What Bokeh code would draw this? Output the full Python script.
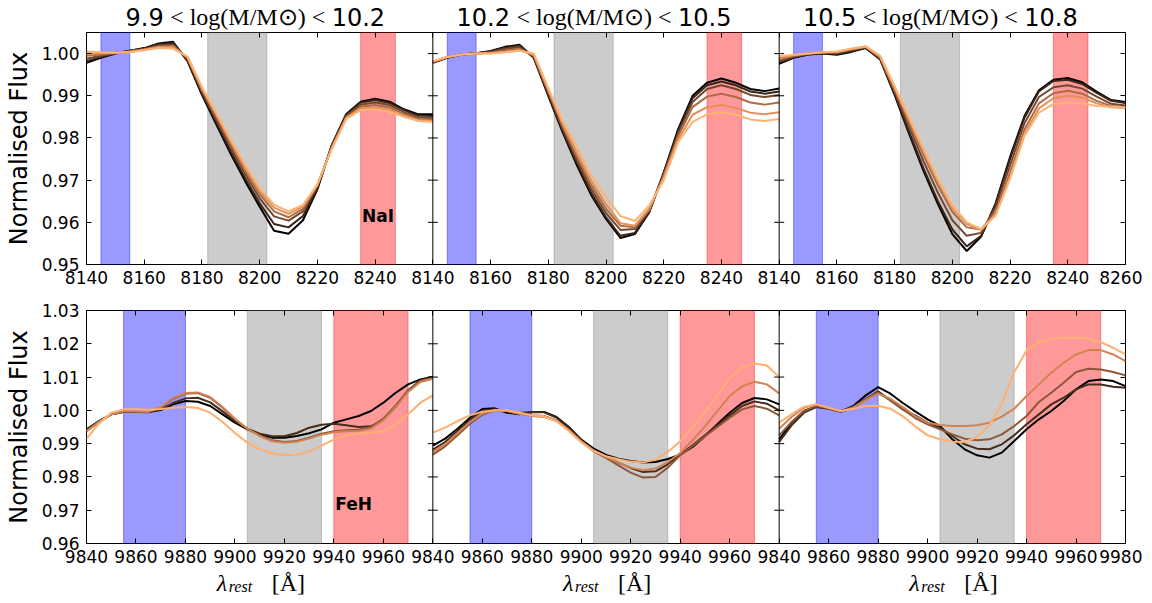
from bokeh.plotting import figure
from bokeh.models import (Range1d, LinearAxis, BoxAnnotation, Label, FixedTicker,
                          Span, NumeralTickFormatter)
from bokeh.layouts import column
from bokeh.embed import file_html
from bokeh.resources import INLINE

# ---------------- data ----------------
bin_lo = ["9.9", "10.2", "10.5"]
bin_hi = ["10.2", "10.5", "10.8"]

# NaI region (top row)
nai_wave = [8140, 8145, 8150, 8155, 8160, 8165, 8170, 8175, 8180, 8185, 8190, 8195, 8200,
            8205, 8210, 8215, 8220, 8225, 8230, 8235, 8240, 8245, 8250, 8255, 8260]
nai_range = [8140, 8260]
nai_yrange = [0.95, 1.005]
nai_yticks = [0.95, 0.96, 0.97, 0.98, 0.99, 1.00]
nai_xticks = [8140, 8160, 8180, 8200, 8220, 8240, 8260]
nai_blue = [8145, 8155]
nai_grey = [8182, 8202.5]
nai_red = [8235, 8247]

nai_bin1 = [
    [0.9978, 0.9990, 1.0000, 1.0007, 1.0013, 1.0024, 1.0028, 0.9982, 0.9902, 0.9832, 0.9762, 0.9697, 0.9637,
     0.9580, 0.9573, 0.9605, 0.9678, 0.9783, 0.9857, 0.9886, 0.9893, 0.9886, 0.9868, 0.9856, 0.9856],
    [0.9982, 0.9992, 1.0001, 1.0007, 1.0012, 1.0022, 1.0025, 0.9984, 0.9906, 0.9837, 0.9768, 0.9704, 0.9645,
     0.9596, 0.9588, 0.9615, 0.9682, 0.9782, 0.9855, 0.9884, 0.9890, 0.9883, 0.9866, 0.9853, 0.9852],
    [0.9988, 0.9995, 1.0001, 1.0006, 1.0011, 1.0019, 1.0021, 0.9987, 0.9910, 0.9843, 0.9777, 0.9714, 0.9657,
     0.9614, 0.9604, 0.9626, 0.9686, 0.9780, 0.9852, 0.9879, 0.9884, 0.9878, 0.9861, 0.9849, 0.9847],
    [0.9995, 0.9998, 1.0002, 1.0005, 1.0010, 1.0017, 1.0018, 0.9990, 0.9914, 0.9850, 0.9785, 0.9722, 0.9667,
     0.9626, 0.9612, 0.9632, 0.9688, 0.9778, 0.9849, 0.9874, 0.9878, 0.9872, 0.9857, 0.9845, 0.9843],
    [1.0000, 1.0001, 1.0002, 1.0004, 1.0009, 1.0015, 1.0015, 0.9992, 0.9918, 0.9855, 0.9791, 0.9729, 0.9674,
     0.9635, 0.9620, 0.9637, 0.9689, 0.9776, 0.9847, 0.9870, 0.9872, 0.9866, 0.9853, 0.9842, 0.9840],
    [1.0005, 1.0003, 1.0002, 1.0004, 1.0008, 1.0013, 1.0012, 0.9993, 0.9921, 0.9859, 0.9796, 0.9736, 0.9681,
     0.9642, 0.9626, 0.9641, 0.9690, 0.9774, 0.9845, 0.9866, 0.9868, 0.9862, 0.9850, 0.9840, 0.9838],
]
nai_bin2 = [
    [0.9978, 0.9990, 0.9998, 1.0001, 1.0006, 1.0016, 1.0021, 0.9990, 0.9900, 0.9813, 0.9734, 0.9663, 0.9608,
     0.9563, 0.9572, 0.9624, 0.9718, 0.9821, 0.9900, 0.9931, 0.9941, 0.9931, 0.9916, 0.9911, 0.9917],
    [0.9979, 0.9991, 0.9998, 1.0001, 1.0005, 1.0014, 1.0019, 0.9990, 0.9903, 0.9817, 0.9739, 0.9668, 0.9612,
     0.9568, 0.9575, 0.9626, 0.9716, 0.9816, 0.9894, 0.9925, 0.9934, 0.9925, 0.9910, 0.9905, 0.9910],
    [0.9980, 0.9992, 0.9998, 1.0000, 1.0004, 1.0011, 1.0015, 0.9992, 0.9907, 0.9823, 0.9747, 0.9677, 0.9622,
     0.9582, 0.9584, 0.9628, 0.9713, 0.9810, 0.9885, 0.9916, 0.9925, 0.9916, 0.9902, 0.9897, 0.9902],
    [0.9980, 0.9992, 0.9998, 1.0000, 1.0002, 1.0007, 1.0011, 0.9995, 0.9911, 0.9828, 0.9755, 0.9687, 0.9632,
     0.9592, 0.9588, 0.9630, 0.9710, 0.9804, 0.9873, 0.9898, 0.9905, 0.9897, 0.9884, 0.9879, 0.9884],
    [0.9981, 0.9992, 0.9998, 1.0000, 1.0001, 1.0004, 1.0008, 0.9998, 0.9915, 0.9833, 0.9763, 0.9697, 0.9643,
     0.9598, 0.9592, 0.9633, 0.9706, 0.9796, 0.9855, 0.9873, 0.9878, 0.9871, 0.9860, 0.9856, 0.9861],
    [0.9982, 0.9992, 0.9998, 1.0000, 1.0000, 1.0003, 1.0007, 1.0000, 0.9918, 0.9840, 0.9778, 0.9710, 0.9660,
     0.9615, 0.9603, 0.9640, 0.9700, 0.9790, 0.9838, 0.9856, 0.9861, 0.9855, 0.9844, 0.9840, 0.9845],
]
nai_bin3 = [
    [0.9976, 0.9990, 0.9998, 1.0000, 0.9997, 1.0004, 1.0013, 0.9986, 0.9902, 0.9810, 0.9722, 0.9643, 0.9572,
     0.9532, 0.9566, 0.9645, 0.9755, 0.9852, 0.9913, 0.9938, 0.9942, 0.9932, 0.9910, 0.9890, 0.9885],
    [0.9979, 0.9991, 0.9998, 1.0001, 0.9999, 1.0006, 1.0014, 0.9987, 0.9905, 0.9815, 0.9728, 0.9650, 0.9583,
     0.9543, 0.9568, 0.9643, 0.9750, 0.9848, 0.9910, 0.9935, 0.9938, 0.9928, 0.9907, 0.9888, 0.9883],
    [0.9982, 0.9993, 0.9999, 1.0002, 1.0001, 1.0008, 1.0015, 0.9989, 0.9910, 0.9827, 0.9745, 0.9670, 0.9605,
     0.9568, 0.9575, 0.9635, 0.9735, 0.9835, 0.9897, 0.9920, 0.9925, 0.9917, 0.9898, 0.9881, 0.9877],
    [0.9986, 0.9995, 1.0000, 1.0003, 1.0003, 1.0010, 1.0016, 0.9991, 0.9915, 0.9837, 0.9760, 0.9688, 0.9625,
     0.9588, 0.9583, 0.9625, 0.9718, 0.9820, 0.9882, 0.9906, 0.9912, 0.9905, 0.9888, 0.9876, 0.9873],
    [0.9990, 0.9996, 1.0000, 1.0003, 1.0004, 1.0011, 1.0017, 0.9993, 0.9919, 0.9844, 0.9768, 0.9697, 0.9635,
     0.9596, 0.9582, 0.9618, 0.9708, 0.9810, 0.9870, 0.9894, 0.9900, 0.9896, 0.9882, 0.9873, 0.9871],
    [0.9994, 0.9997, 1.0000, 1.0003, 1.0005, 1.0012, 1.0017, 0.9995, 0.9923, 0.9849, 0.9774, 0.9703, 0.9640,
     0.9600, 0.9584, 0.9616, 0.9703, 0.9805, 0.9860, 0.9880, 0.9884, 0.9882, 0.9876, 0.9874, 0.9872],
]
nai_colors = ["#000000", "#392417", "#73482e", "#ac6c44", "#e58f5b", "#ffb372"]

# FeH region (bottom row)
feh_wave = [9840, 9845, 9850, 9855, 9860, 9865, 9870, 9875, 9880, 9885, 9890, 9895, 9900, 9905, 9910,
            9915, 9920, 9925, 9930, 9935, 9940, 9945, 9950, 9955, 9960, 9965, 9970, 9975, 9980]
feh_range = [9840, 9980]
feh_yrange = [0.96, 1.03]
feh_yticks = [0.96, 0.97, 0.98, 0.99, 1.00, 1.01, 1.02, 1.03]
feh_xticks = [9840, 9860, 9880, 9900, 9920, 9940, 9960, 9980]
feh_blue = [9855, 9880]
feh_grey = [9905, 9935]
feh_red = [9940, 9970]

feh_bin1 = [
    [0.9943, 0.9968, 0.9988, 0.9995, 0.9995, 0.9995, 1.0001, 1.0018, 1.0028, 1.0026, 1.0013, 0.9988, 0.9963, 0.9943,
     0.9928, 0.9918, 0.9918, 0.9923, 0.9931, 0.9943, 0.9963, 0.9973, 0.9983, 0.9998, 1.0023, 1.0053, 1.0078, 1.0093, 1.0101],
    [0.9938, 0.9965, 0.9988, 0.9996, 0.9995, 0.9994, 1.0003, 1.0022, 1.0036, 1.0038, 1.0024, 0.9997, 0.9968, 0.9945,
     0.9930, 0.9922, 0.9922, 0.9932, 0.9948, 0.9957, 0.9960, 0.9955, 0.9950, 0.9952, 0.9972, 1.0010, 1.0060, 1.0090, 1.0100],
    [0.9940, 0.9966, 0.9988, 0.9997, 0.9996, 0.9995, 1.0008, 1.0035, 1.0050, 1.0052, 1.0038, 1.0008, 0.9973, 0.9945,
     0.9925, 0.9910, 0.9905, 0.9908, 0.9918, 0.9930, 0.9937, 0.9940, 0.9942, 0.9950, 0.9975, 1.0015, 1.0060, 1.0088, 1.0098],
    [0.9937, 0.9965, 0.9988, 0.9997, 0.9997, 0.9996, 1.0010, 1.0037, 1.0052, 1.0054, 1.0040, 1.0010, 0.9975, 0.9945,
     0.9923, 0.9907, 0.9903, 0.9906, 0.9915, 0.9927, 0.9934, 0.9937, 0.9938, 0.9945, 0.9970, 1.0010, 1.0055, 1.0085, 1.0095],
    [0.9915, 0.9960, 0.9993, 1.0003, 1.0003, 1.0002, 1.0004, 1.0008, 1.0010, 1.0007, 0.9993, 0.9965, 0.9932, 0.9903,
     0.9883, 0.9871, 0.9866, 0.9867, 0.9877, 0.9894, 0.9912, 0.9925, 0.9930, 0.9933, 0.9937, 0.9958, 0.9988, 1.0023, 1.0045],
]
feh_bin2 = [
    [0.9894, 0.9915, 0.9945, 0.9978, 1.0004, 1.0006, 0.9993, 0.9988, 0.9995, 0.9995, 0.9980, 0.9950, 0.9912, 0.9885,
     0.9866, 0.9855, 0.9848, 0.9843, 0.9845, 0.9854, 0.9867, 0.9890, 0.9922, 0.9958, 0.9993, 1.0022, 1.0037, 1.0033, 1.0018],
    [0.9882, 0.9905, 0.9938, 0.9972, 0.9998, 1.0003, 0.9997, 0.9992, 0.9995, 0.9994, 0.9978, 0.9947, 0.9910, 0.9880,
     0.9860, 0.9843, 0.9827, 0.9815, 0.9817, 0.9838, 0.9867, 0.9895, 0.9925, 0.9955, 0.9985, 1.0013, 1.0027, 1.0020, 1.0000],
    [0.9867, 0.9892, 0.9925, 0.9960, 0.9987, 1.0000, 0.9998, 0.9990, 0.9985, 0.9983, 0.9970, 0.9942, 0.9907, 0.9877,
     0.9857, 0.9835, 0.9813, 0.9798, 0.9800, 0.9828, 0.9865, 0.9893, 0.9922, 0.9950, 0.9978, 1.0003, 1.0013, 1.0005, 0.9985],
    [0.9875, 0.9898, 0.9932, 0.9965, 0.9990, 1.0000, 0.9998, 0.9990, 0.9983, 0.9980, 0.9968, 0.9940, 0.9906, 0.9880,
     0.9860, 0.9843, 0.9828, 0.9820, 0.9825, 0.9845, 0.9872, 0.9910, 0.9952, 0.9998, 1.0043, 1.0072, 1.0086, 1.0078, 1.0051],
    [0.9933, 0.9948, 0.9968, 0.9985, 0.9996, 1.0000, 1.0000, 0.9993, 0.9985, 0.9982, 0.9968, 0.9938, 0.9904, 0.9878,
     0.9862, 0.9853, 0.9846, 0.9843, 0.9852, 0.9875, 0.9907, 0.9948, 0.9993, 1.0045, 1.0098, 1.0128, 1.0141, 1.0135, 1.0101],
]
feh_bin3 = [
    [0.9913, 0.9963, 0.9998, 1.0011, 1.0006, 0.9997, 1.0013, 1.0045, 1.0070, 1.0050, 1.0022, 0.9997, 0.9973, 0.9953,
     0.9913, 0.9883, 0.9865, 0.9858, 0.9873, 0.9908, 0.9943, 0.9973, 0.9998, 1.0028, 1.0063, 1.0088, 1.0093, 1.0088, 1.0073],
    [0.9905, 0.9955, 0.9993, 1.0010, 1.0005, 0.9996, 1.0008, 1.0033, 1.0057, 1.0030, 1.0003, 0.9985, 0.9963, 0.9948,
     0.9923, 0.9898, 0.9885, 0.9883, 0.9898, 0.9925, 0.9958, 0.9988, 1.0018, 1.0038, 1.0063, 1.0078, 1.0078, 1.0071, 1.0068],
    [0.9925, 0.9965, 0.9998, 1.0013, 1.0006, 0.9997, 1.0010, 1.0035, 1.0053, 1.0030, 1.0003, 0.9977, 0.9958, 0.9943,
     0.9928, 0.9915, 0.9910, 0.9913, 0.9928, 0.9953, 0.9983, 1.0025, 1.0053, 1.0083, 1.0115, 1.0125, 1.0123, 1.0115, 1.0105],
    [0.9945, 0.9980, 1.0008, 1.0018, 1.0008, 0.9997, 1.0008, 1.0030, 1.0050, 1.0035, 1.0010, 0.9983, 0.9963, 0.9956,
     0.9953, 0.9953, 0.9955, 0.9963, 0.9981, 1.0005, 1.0043, 1.0078, 1.0113, 1.0143, 1.0168, 1.0181, 1.0181, 1.0168, 1.0148],
    [0.9963, 0.9988, 1.0011, 1.0018, 1.0008, 0.9998, 1.0005, 1.0013, 1.0014, 1.0005, 0.9982, 0.9952, 0.9925, 0.9913,
     0.9906, 0.9905, 0.9920, 0.9955, 1.0020, 1.0115, 1.0180, 1.0205, 1.0215, 1.0218, 1.0218, 1.0215, 1.0205, 1.0188, 1.0168],
]
feh_colors = ["#000000", "#462c1c", "#8c5838", "#d28354", "#ffaf70"]

# ---------------- helpers ----------------
SANS = "DejaVu Sans"
SERIF = "Liberation Serif"
FRAME_W = 1039
LEFT_B = 86
RIGHT_B = 17
NAMES = ["p0", "p1", "p2"]


def panel_ranges(xr):
    span = xr[1] - xr[0]
    return {NAMES[k]: Range1d(xr[0] - k * span, xr[1] + (2 - k) * span) for k in range(3)}


def style_axis(ax, labels):
    ax.axis_line_color = None
    ax.major_tick_line_color = "black"
    ax.major_tick_line_width = 1
    ax.major_tick_in = 5
    ax.major_tick_out = 0
    ax.minor_tick_line_color = None
    ax.major_label_text_font = SANS
    ax.major_label_text_color = "black"
    if labels:
        ax.major_label_text_font_size = "17px"
        ax.major_label_standoff = 6
    else:
        ax.major_label_text_font_size = "0px"
        ax.major_label_standoff = 0


def make_strip(xr, h):
    span = xr[1] - xr[0]
    s = figure(frame_width=FRAME_W, frame_height=h, title=None,
               x_range=Range1d(xr[0], xr[1] + 2 * span), y_range=Range1d(0, 1),
               x_axis_type=None, y_axis_type=None,
               output_backend="svg", toolbar_location=None,
               min_border_left=LEFT_B, min_border_right=RIGHT_B,
               min_border_top=0, min_border_bottom=0)
    s.extra_x_ranges = panel_ranges(xr)
    s.outline_line_color = None
    s.background_fill_color = None
    s.border_fill_color = None
    return s


def make_row(wave, bins, colors, xr, yr, yticks, xticks, bands, frame_h, b_top, b_bottom):
    span = xr[1] - xr[0]
    p = figure(frame_width=FRAME_W, frame_height=frame_h, title=None,
               x_range=Range1d(xr[0], xr[1] + 2 * span), y_range=Range1d(*yr),
               x_axis_type=None, y_axis_type=None,
               output_backend="svg", toolbar_location=None,
               min_border_left=LEFT_B, min_border_right=RIGHT_B,
               min_border_top=b_top, min_border_bottom=b_bottom)
    p.extra_x_ranges = panel_ranges(xr)
    p.outline_line_color = "black"
    p.outline_line_width = 1
    p.background_fill_color = "white"
    p.border_fill_color = "white"

    # tick positions along the three joined panels
    overrides = {}
    for k in range(3):
        for t in xticks:
            if k < 2 and t == xr[1]:
                continue
            overrides[t + k * span] = str(t)
    xpos = sorted(overrides.keys())

    bottom = LinearAxis(ticker=FixedTicker(ticks=xpos, minor_ticks=[]))
    bottom.major_label_overrides = overrides
    style_axis(bottom, True)
    p.add_layout(bottom, "below")
    top = LinearAxis(ticker=FixedTicker(ticks=xpos, minor_ticks=[]))
    style_axis(top, False)
    top.major_label_overrides = {k: "" for k in xpos}
    p.add_layout(top, "above")

    left = LinearAxis(ticker=FixedTicker(ticks=yticks, minor_ticks=[]),
                      formatter=NumeralTickFormatter(format="0.00"))
    style_axis(left, True)
    left.major_label_standoff = 7
    left.axis_label = "Normalised Flux"
    left.axis_label_text_font = SANS
    left.axis_label_text_font_size = "24px"
    left.axis_label_text_font_style = "normal"
    left.axis_label_text_color = "black"
    left.axis_label_standoff = 6
    p.add_layout(left, "left")
    right = LinearAxis(ticker=FixedTicker(ticks=yticks, minor_ticks=[]))
    style_axis(right, False)
    right.major_label_overrides = {v: "" for v in yticks}
    p.add_layout(right, "right")

    for k in range(3):
        rn = NAMES[k]
        for (lo, hi), col in zip(bands, ["blue", "grey", "red"]):
            p.add_layout(BoxAnnotation(left=lo, right=hi, x_range_name=rn,
                                       fill_color=col, fill_alpha=0.4,
                                       line_color=col, line_alpha=0.4, line_width=1,
                                       level="underlay"))
        for vals, c in zip(bins[k], colors):
            p.line(wave, vals, x_range_name=rn, line_color=c, line_width=2)
        if k > 0:
            p.add_layout(Span(location=xr[0], dimension="height", x_range_name=rn,
                              line_color="black", line_width=1))
            p.scatter([xr[0]] * len(yticks), yticks, x_range_name=rn, marker="dash",
                      size=10, line_color="black", line_width=1)
    return p


# ---------------- titles ----------------
t_strip = make_strip(nai_range, 32)
for k in range(3):
    cx = (nai_range[0] + nai_range[1]) / 2
    common = dict(x=cx, y=0.5, x_range_name=NAMES[k], y_offset=0,
                  text_baseline="middle", text_color="black")
    t_strip.add_layout(Label(text="< log(M/M\u2299) <", text_font=SERIF, text_font_size="24px",
                             text_align="center", x_offset=-12, **common))
    t_strip.add_layout(Label(text=bin_lo[k], text_font=SANS, text_font_size="24px",
                             text_align="right", x_offset=-96, **common))
    t_strip.add_layout(Label(text=bin_hi[k], text_font=SANS, text_font_size="24px",
                             text_align="left", x_offset=72, **common))

# ---------------- top row ----------------
p_top = make_row(nai_wave, [nai_bin1, nai_bin2, nai_bin3], nai_colors, nai_range, nai_yrange,
                 nai_yticks, nai_xticks, [nai_blue, nai_grey, nai_red], 232, 0, 30)
p_top.add_layout(Label(x=8241, y=0.9616, x_range_name="p0", text="NaI", text_font=SANS,
                       text_font_size="17px", text_font_style="bold", text_align="center",
                       text_baseline="middle", text_color="black"))

# ---------------- bottom row ----------------
p_bot = make_row(feh_wave, [feh_bin1, feh_bin2, feh_bin3], feh_colors, feh_range, feh_yrange,
                 feh_yticks, feh_xticks, [feh_blue, feh_grey, feh_red], 233, 16, 24)
p_bot.add_layout(Label(x=9948, y=0.9719, x_range_name="p0", text="FeH", text_font=SANS,
                       text_font_size="17px", text_font_style="bold", text_align="center",
                       text_baseline="middle", text_color="black"))

# ---------------- x-axis labels ----------------
b_strip = make_strip(feh_range, 30)
for k in range(3):
    cx = (feh_range[0] + feh_range[1]) / 2
    common = dict(x=cx, y=0.5, x_range_name=NAMES[k], text_baseline="middle",
                  text_color="black", text_align="left")
    b_strip.add_layout(Label(text="\u03bb", text_font=SERIF, text_font_size="24px",
                             text_font_style="italic", x_offset=-43, y_offset=0, **common))
    b_strip.add_layout(Label(text="rest", text_font=SERIF, text_font_size="16px",
                             text_font_style="italic", x_offset=-31, y_offset=-4, **common))
    b_strip.add_layout(Label(text="[\u00c5]", text_font=SERIF, text_font_size="24px",
                             x_offset=12, y_offset=0, **common))

layout = column(t_strip, p_top, p_bot, b_strip, spacing=0)
open("out.html", "w").write(file_html(layout, INLINE))
